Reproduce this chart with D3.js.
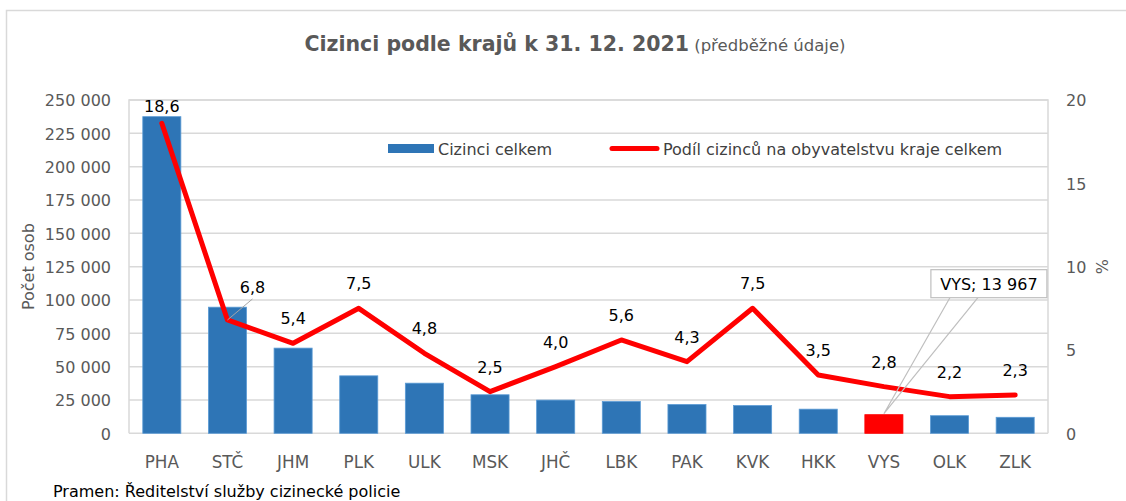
<!DOCTYPE html>
<html lang="cs">
<head>
    <meta charset="UTF-8">
    <title>Cizinci podle krajů</title>
    <script src="https://d3js.org/d3.v7.min.js"></script>
    <style>
        body{
            margin: 0;
            background: #fff;
        }
        svg{
            display: block;
        }
        text{
            font-family: "DejaVu Sans", sans-serif;
            font-size: 16px;
        }
        .tick text{
            fill: #595959;
        }
        .cat .tick text{
            font-size: 16.8px;
        }
    </style>
</head>
<body>
<script>

    const width = 1126
    const height = 501

    // data
    const regions = ["PHA", "STČ", "JHM", "PLK", "ULK", "MSK", "JHČ", "LBK", "PAK", "KVK", "HKK", "VYS", "OLK", "ZLK"]
    const foreigners = [237500, 94600, 63900, 43100, 37600, 28900, 24900, 23800, 21600, 20800, 18100, 13967, 13200, 12000]
    const shares = [18.6, 6.8, 5.4, 7.5, 4.8, 2.5, 4.0, 5.6, 4.3, 7.5, 3.5, 2.8, 2.2, 2.3]
    const leftTicks = [0, 25000, 50000, 75000, 100000, 125000, 150000, 175000, 200000, 225000, 250000]
    const rightTicks = [0, 5, 10, 15, 20]
    const highlighted = "VYS"

    const plot = {left: 129, right: 1048, top: 100, bottom: 433.3}

    let svg = d3.select("body").append("svg")
                .attr("width", width)
                .attr("height", height)

    // outer chart frame
    svg.append("rect")
        .attr("x", 6.5).attr("y", 10.5)
        .attr("width", width + 20).attr("height", height + 20)
        .attr("fill", "#fff")
        .attr("stroke", "#d9d9d9")
        .attr("stroke-width", 1.5)

    const x = d3.scaleBand()
                .domain(regions)
                .range([plot.left, plot.right])
                .paddingInner(0.42)
                .paddingOuter(0.21)

    const yLeft = d3.scaleLinear().domain([0, 250000]).range([plot.bottom, plot.top])
    const yRight = d3.scaleLinear().domain([0, 20]).range([plot.bottom, plot.top])

    const numFmt = d => d3.format(",")(d).replace(/,/g, " ")
    const pctFmt = d => d3.format(".1f")(d).replace(".", ",")

    // gridlines
    svg.append("g")
        .selectAll("line")
        .data(leftTicks)
        .join("line")
        .attr("x1", plot.left).attr("x2", plot.right)
        .attr("y1", d => yLeft(d)).attr("y2", d => yLeft(d))
        .attr("stroke", "#d9d9d9")
        .attr("stroke-width", 1.5)

    // plot area sides
    svg.append("path")
        .attr("d", `M${plot.left},${plot.bottom}V${plot.top}H${plot.right}V${plot.bottom}`)
        .attr("fill", "none")
        .attr("stroke", "#d9d9d9")
        .attr("stroke-width", 1.5)

    // axes
    let gLeft = svg.append("g")
        .attr("transform", `translate(${plot.left - 18},0)`)
        .call(d3.axisLeft(yLeft).tickValues(leftTicks).tickFormat(numFmt).tickSize(0).tickPadding(0))
    gLeft.select(".domain").remove()
    gLeft.selectAll("text").attr("dy", "0.36em")

    let gRight = svg.append("g")
        .attr("transform", `translate(${plot.right + 18},0)`)
        .call(d3.axisRight(yRight).tickValues(rightTicks).tickSize(0).tickPadding(0))
    gRight.select(".domain").remove()
    gRight.selectAll("text").attr("dy", "0.36em")

    let gBottom = svg.append("g")
        .attr("class", "cat")
        .attr("transform", `translate(0,${plot.bottom + 20})`)
        .call(d3.axisBottom(x).tickSize(0).tickPadding(0))
    gBottom.select(".domain").remove()
    gBottom.selectAll("text").attr("dy", "0.85em")

    // axis titles
    svg.append("text")
        .attr("transform", `translate(34,${(plot.top + plot.bottom) / 2}) rotate(-90)`)
        .attr("text-anchor", "middle")
        .attr("fill", "#595959")
        .text("Počet osob")

    svg.append("text")
        .attr("transform", `translate(1108,${(plot.top + plot.bottom) / 2}) rotate(-90)`)
        .attr("text-anchor", "middle")
        .attr("fill", "#595959")
        .text("%")

    // bars
    svg.append("g")
        .selectAll("rect")
        .data(regions)
        .join("rect")
        .attr("x", d => x(d))
        .attr("width", x.bandwidth())
        .attr("y", (d, i) => yLeft(foreigners[i]))
        .attr("height", (d, i) => plot.bottom - yLeft(foreigners[i]))
        .attr("fill", d => d === highlighted ? "#ff0000" : "#2e75b6")
        .attr("stroke", d => d === highlighted ? "#ff0000" : "#5b9bd5")
        .attr("stroke-width", 0.8)

    // line
    const cx = d => x(d) + x.bandwidth() / 2
    const line = d3.line()
                    .x(d => cx(d))
                    .y((d, i) => yRight(shares[i]))

    svg.append("path")
        .datum(regions)
        .attr("d", line)
        .attr("fill", "none")
        .attr("stroke", "#ff0000")
        .attr("stroke-width", 5)
        .attr("stroke-linejoin", "round")
        .attr("stroke-linecap", "round")

    // data labels
    let gLabels = svg.append("g")
    regions.forEach((d, i) => {
        let px = cx(d), py = yRight(shares[i])
        let lx = px, ly = py - 19
        if (i === 0) ly = py - 11
        if (i === 1) {
            // label moved off the line with a leader
            lx = px + 25
            ly = py - 27
            gLabels.append("line")
                .attr("x1", px).attr("y1", py)
                .attr("x2", px + 25).attr("y2", py - 21)
                .attr("stroke", "#a6a6a6")
                .attr("stroke-width", 1)
        }
        gLabels.append("text")
            .attr("x", lx).attr("y", ly)
            .attr("text-anchor", "middle")
            .attr("fill", "#000")
            .attr("font-size", "17px")
            .text(pctFmt(shares[i]))
    })

    // callout for the highlighted bar
    const hi = regions.indexOf(highlighted)
    const ax = cx(highlighted), ay = yLeft(foreigners[hi]) - 1
    const box = {x: ax + 47, y: ay - 144, w: 116, h: 28}
    svg.append("path")
        .attr("d", `M${box.x + 19},${box.y + box.h}L${ax},${ay}L${box.x + 47},${box.y + box.h}`)
        .attr("fill", "none")
        .attr("stroke", "#bfbfbf")
        .attr("stroke-width", 1.2)
    svg.append("rect")
        .attr("x", box.x).attr("y", box.y)
        .attr("width", box.w).attr("height", box.h)
        .attr("fill", "#fff")
        .attr("stroke", "#bfbfbf")
        .attr("stroke-width", 1.2)
    svg.append("text")
        .attr("x", box.x + box.w / 2).attr("y", box.y + 20)
        .attr("text-anchor", "middle")
        .attr("fill", "#000")
        .text(highlighted + "; " + numFmt(foreigners[hi]))

    // legend
    let gLegend = svg.append("g")
    gLegend.append("rect")
        .attr("x", 388).attr("y", 144)
        .attr("width", 46).attr("height", 9)
        .attr("fill", "#2e75b6")
    gLegend.append("text")
        .attr("x", 438).attr("y", 155)
        .attr("fill", "#404040")
        .text("Cizinci celkem")
    gLegend.append("line")
        .attr("x1", 612).attr("x2", 657)
        .attr("y1", 148.5).attr("y2", 148.5)
        .attr("stroke", "#ff0000")
        .attr("stroke-width", 5)
        .attr("stroke-linecap", "round")
    gLegend.append("text")
        .attr("x", 663).attr("y", 155)
        .attr("fill", "#404040")
        .attr("font-size", "16.3px")
        .text("Podíl cizinců na obyvatelstvu kraje celkem")

    // title
    let title = svg.append("text")
        .attr("x", 575).attr("y", 51)
        .attr("text-anchor", "middle")
        .attr("fill", "#595959")
    title.append("tspan")
        .attr("font-weight", "bold")
        .attr("font-size", "20.5px")
        .text("Cizinci podle krajů k 31. 12. 2021")
    title.append("tspan")
        .attr("font-size", "16.5px")
        .text(" (předběžné údaje)")

    // source
    svg.append("text")
        .attr("x", 53).attr("y", 497)
        .attr("fill", "#000")
        .attr("font-size", "16.4px")
        .text("Pramen: Ředitelství služby cizinecké policie")

</script>
</body>
</html>
